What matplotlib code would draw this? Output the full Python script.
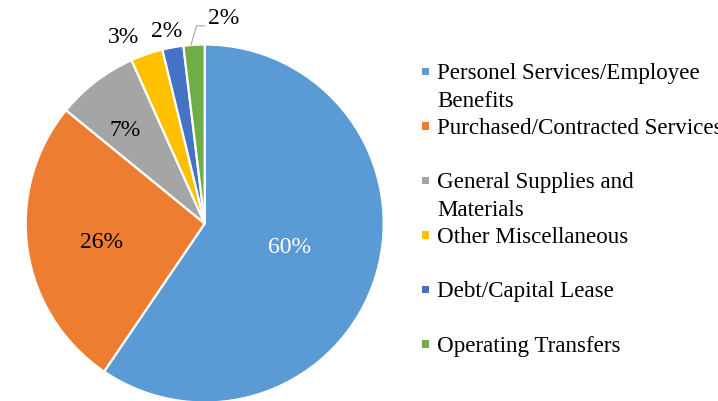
import numpy as np
import matplotlib
matplotlib.use("Agg")
import matplotlib.pyplot as plt

plt.rcParams['font.family'] = ['Liberation Serif', 'DejaVu Serif']

# data
categories = [
    "Personel Services/Employee\nBenefits",
    "Purchased/Contracted Services",
    "General Supplies and\nMaterials",
    "Other Miscellaneous",
    "Debt/Capital Lease",
    "Operating Transfers",
]
shares = [59.5, 26.4, 7.4, 2.9, 1.9, 1.9]
pct_labels = ["60%", "26%", "7%", "3%", "2%", "2%"]
colors = ["#5B9BD5", "#ED7D31", "#A5A5A5", "#FFC000", "#4472C4", "#70AD47"]

# layout (pixel units, y measured from the bottom)
W, H = 718, 402
CX, CY, R = 204.7, H - 224.5, 179
# label placement as (angle in degrees, distance in radii), like Excel's best fit
label_pos = [(-15.4, 0.494), (-169.9, 0.588), (130.1, 0.69),
             (113.5, 1.14), (101.1, 1.10), (84.9, 1.158)]
label_color = ["white", "black", "black", "black", "black", "black"]

fig = plt.figure(figsize=(W / 100, H / 100), dpi=100)
ax = fig.add_axes([0, 0, 1, 1])

wedges, _ = ax.pie(shares, colors=colors, startangle=90, counterclock=False,
                   center=(CX, CY), radius=R, frame=True,
                   wedgeprops=dict(edgecolor="white", linewidth=1.6))
ax.set_xlim(0, W)
ax.set_ylim(0, H)
ax.axis("off")

for w, lab, (ang, d), c in zip(wedges, pct_labels, label_pos, label_color):
    a = np.radians(ang)
    x = CX + d * R * np.cos(a)
    y = CY + d * R * np.sin(a)
    if d > 1.15:
        # leader line from the thin slice up to its label
        mid = np.radians((w.theta1 + w.theta2) / 2)
        rx = CX + R * np.cos(mid)
        ry = CY + R * np.sin(mid)
        ax.plot([rx - 3, rx + 2.5, rx + 10.5], [ry, ry + 19, ry + 19],
                color="#A6A6A6", lw=0.8)
    ax.text(x, y, lab, color=c, fontsize=17, ha="center", va="center")

# legend drawn by hand to keep Excel's spacing
for i, (lab, c) in enumerate(zip(categories, colors)):
    yc = H - (72.5 + 54.5 * i)
    ax.add_patch(plt.Rectangle((421.7, yc - 3.6), 7.3, 7.3, color=c, lw=0))
    for j, line in enumerate(lab.split("\n")):
        ax.text(437.5, yc - 7 - 27.3 * j, line, fontsize=16.6,
                ha="left", va="baseline")

fig.savefig("out.png", dpi=100)
